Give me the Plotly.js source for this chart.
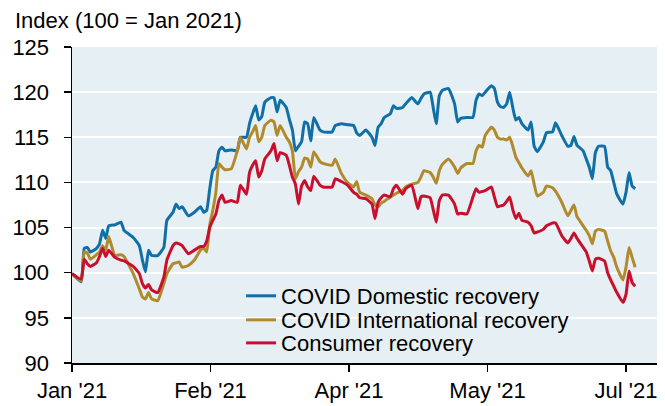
<!DOCTYPE html>
<html>
<head>
<meta charset="utf-8">
<script src="https://cdn.plot.ly/plotly-3.0.1.min.js"></script>
<style>
  html, body { margin: 0; padding: 0; background: #ffffff; }
  #chart { width: 665px; height: 406px; }
</style>
</head>
<body>
<div id="chart"></div>
<script>
// ---- data ----
const dates = [
  "2021-01-01","2021-01-04","2021-01-05","2021-01-06","2021-01-07","2021-01-09","2021-01-10","2021-01-11","2021-01-12","2021-01-13",
  "2021-01-15","2021-01-17","2021-01-18","2021-01-21","2021-01-23","2021-01-24","2021-01-25","2021-01-26","2021-01-27","2021-01-29",
  "2021-01-31","2021-02-01","2021-02-03","2021-02-04","2021-02-05","2021-02-06","2021-02-08","2021-02-10","2021-02-12","2021-02-13",
  "2021-02-14","2021-02-15","2021-02-16","2021-02-17","2021-02-18","2021-02-19","2021-02-20","2021-02-22","2021-02-24","2021-02-25",
  "2021-02-27","2021-02-28","2021-03-01","2021-03-02","2021-03-03","2021-03-04","2021-03-05","2021-03-07","2021-03-08","2021-03-09",
  "2021-03-10","2021-03-12","2021-03-13","2021-03-14","2021-03-15","2021-03-16","2021-03-17","2021-03-18","2021-03-19","2021-03-20",
  "2021-03-21","2021-03-23","2021-03-24","2021-03-27","2021-03-28","2021-03-30","2021-04-01","2021-04-03","2021-04-04","2021-04-05",
  "2021-04-07","2021-04-09","2021-04-10","2021-04-11","2021-04-12","2021-04-13","2021-04-15","2021-04-16","2021-04-17","2021-04-19",
  "2021-04-20","2021-04-22","2021-04-24","2021-04-25","2021-04-26","2021-04-28","2021-04-29","2021-04-30","2021-05-01","2021-05-02",
  "2021-05-04","2021-05-06","2021-05-07","2021-05-08","2021-05-10","2021-05-12","2021-05-13","2021-05-14","2021-05-15","2021-05-16",
  "2021-05-18","2021-05-19","2021-05-20","2021-05-21","2021-05-22","2021-05-23","2021-05-24","2021-05-25","2021-05-26","2021-05-27",
  "2021-05-28","2021-05-30","2021-05-31","2021-06-01","2021-06-02","2021-06-04","2021-06-05","2021-06-07","2021-06-08","2021-06-10",
  "2021-06-12","2021-06-13","2021-06-14","2021-06-15","2021-06-17","2021-06-18","2021-06-19","2021-06-20","2021-06-21","2021-06-22",
  "2021-06-24","2021-06-25","2021-06-26","2021-06-27","2021-06-28","2021-06-30","2021-07-01","2021-07-02","2021-07-03","2021-07-04"
];

const covidDomestic = [
  99.9, 99.0, 102.7, 102.8, 102.3, 102.7, 103.2, 104.7, 103.8, 105.2,
  105.3, 105.6, 104.7, 103.9, 103.0, 101.4, 100.1, 102.5, 101.9, 101.9,
  102.8, 105.8, 106.7, 107.6, 107.1, 107.3, 106.3, 106.7, 107.3, 106.7,
  106.9, 109.3, 111.3, 111.7, 113.5, 113.9, 113.5, 113.6, 113.5, 115.0,
  115.0, 116.5, 117.6, 118.5, 116.9, 117.3, 118.9, 119.4, 119.4, 117.8,
  119.1, 118.3, 117.0, 115.8, 113.5, 114.0, 114.5, 116.7, 116.5, 114.6,
  117.2, 115.8, 115.6, 115.6, 116.3, 116.5, 116.4, 116.3, 115.5, 115.2,
  115.8, 115.0, 114.1, 116.1, 116.5, 117.2, 117.6, 118.5, 118.2, 118.3,
  118.7, 119.4, 118.7, 119.3, 119.8, 120.0, 118.3, 116.5, 119.6, 120.2,
  120.4, 118.7, 116.7, 117.1, 117.2, 117.2, 119.1, 119.8, 119.6, 120.0,
  120.7, 120.4, 118.9, 118.4, 118.3, 118.7, 120.0, 118.3, 116.9, 117.2,
  116.5, 115.8, 116.7, 114.0, 113.4, 114.5, 115.5, 115.6, 116.6, 115.2,
  114.0, 114.1, 115.1, 114.1, 113.5, 112.6, 111.7, 110.4, 113.3, 114.0,
  114.0, 111.7, 111.3, 110.0, 108.7, 107.6, 108.9, 111.1, 109.6, 109.3
];

const covidInternational = [
  99.9, 99.1, 102.3, 102.2, 101.5, 102.0, 102.3, 103.0, 102.5, 104.0,
  101.9, 102.0, 101.8, 99.9, 98.2, 97.3, 97.1, 97.8, 97.1, 96.9,
  98.8, 99.9, 101.0, 101.1, 101.2, 100.6, 100.8, 101.4, 102.5, 102.7,
  102.3, 105.3, 106.9, 108.9, 112.1, 111.7, 111.4, 111.5, 113.5, 115.0,
  113.7, 115.0, 115.6, 116.3, 114.5, 115.0, 116.3, 116.9, 116.7, 115.2,
  116.3, 115.0, 114.5, 113.5, 110.4, 111.2, 111.7, 112.7, 112.6, 111.7,
  113.4, 112.3, 112.1, 111.9, 112.6, 111.0, 110.0, 109.5, 110.1, 108.9,
  108.6, 108.2, 107.5, 107.3, 107.7, 107.9, 108.4, 108.6, 108.8, 109.1,
  109.5, 109.8, 110.0, 110.6, 111.3, 111.1, 110.6, 109.9, 111.3, 112.0,
  112.6, 111.7, 111.0, 111.6, 112.1, 112.1, 113.5, 114.1, 113.9, 115.2,
  116.1, 115.8, 115.0, 114.8, 114.8, 114.7, 115.0, 114.0, 112.8, 112.2,
  111.6, 110.7, 111.3, 109.8, 108.5, 108.9, 109.6, 109.4, 109.0, 107.8,
  106.3, 106.9, 107.5, 106.2, 105.2, 104.7, 104.1, 103.2, 104.6, 104.8,
  104.6, 103.5, 102.4, 101.7, 100.6, 99.2, 100.6, 102.8, 101.7, 100.6
];

const consumer = [
  99.9, 99.3, 101.5, 101.0, 100.7, 101.1, 101.8, 102.7, 101.8, 102.5,
  101.7, 101.4, 101.3, 100.7, 99.9, 98.8, 98.3, 98.7, 98.1, 97.8,
  99.5, 101.4, 103.0, 103.3, 103.2, 103.0, 102.1, 102.5, 102.9, 102.9,
  103.5, 105.0, 105.8, 106.5, 108.0, 108.6, 107.8, 108.0, 107.8, 109.7,
  108.7, 111.1, 111.9, 112.4, 110.6, 111.3, 112.6, 113.5, 114.3, 112.4,
  113.3, 113.0, 111.9, 110.6, 109.8, 107.6, 109.6, 110.2, 109.5, 109.1,
  110.7, 109.7, 109.5, 109.5, 110.4, 110.1, 109.7, 108.9, 108.7, 108.3,
  108.2, 107.6, 106.0, 107.8, 108.3, 108.6, 108.4, 109.3, 109.7, 108.7,
  109.3, 109.7, 107.1, 108.4, 108.5, 108.3, 107.0, 105.6, 108.0, 108.6,
  108.6, 107.6, 106.5, 106.6, 106.5, 108.4, 109.3, 108.9, 109.0, 109.1,
  109.5, 108.4, 107.3, 107.4, 107.5, 107.9, 108.4, 107.0, 106.0, 106.6,
  105.8, 105.6, 105.2, 104.4, 104.5, 104.8, 105.2, 105.5, 105.5, 104.1,
  103.3, 103.8, 104.4, 103.8, 102.8, 102.3, 101.3, 100.2, 101.5, 101.6,
  101.3, 100.0, 99.2, 98.5, 97.8, 96.7, 97.6, 100.2, 98.9, 98.5
];

const seriesNames = ["COVID Domestic recovery", "COVID International recovery", "Consumer recovery"];
const seriesColors = ["#106fa6", "#b08a2c", "#c8102e"];

const xTickVals = ["2021-01-01", "2021-02-15 06:00", "2021-04-01 12:00", "2021-05-16 18:00", "2021-07-01"];
const xTickText = ["Jan '21", "Feb '21", "Apr '21", "May '21", "Jul '21"];
const yTickVals = [90, 95, 100, 105, 110, 115, 120, 125];

const subtitle = "Index (100 = Jan 2021)";

// ---- chart ----
const FONT = "Liberation Sans, Arial, sans-serif";
const seriesValues = [covidDomestic, covidInternational, consumer];
const legendIds = ["legend", "legend2", "legend3"];

const traces = seriesValues.map((vals, i) => ({
  type: "scatter",
  mode: "lines",
  x: dates,
  y: vals,
  name: seriesNames[i],
  legend: legendIds[i],
  line: { color: seriesColors[i], width: 3, shape: "spline", smoothing: 0.4 },
  hoverinfo: "skip"
}));

function legendBox(y) {
  return {
    x: 0.289, y: y, xanchor: "left", yanchor: "middle",
    bgcolor: "rgba(0,0,0,0)", borderwidth: 0,
    font: { family: FONT, size: 22, color: "#000000" },
    itemclick: false, itemdoubleclick: false
  };
}

const layout = {
  width: 665,
  height: 406,
  margin: { l: 72, r: 8, t: 47, b: 43, pad: 0 },
  paper_bgcolor: "#ffffff",
  plot_bgcolor: "#e6eff3",
  font: { family: FONT, size: 22, color: "#000000" },
  showlegend: true,
  legend: legendBox(0.212),
  legend2: legendBox(0.136),
  legend3: legendBox(0.063),
  xaxis: {
    type: "date",
    range: ["2021-01-01", "2021-07-11 03:00"],
    tickmode: "array",
    tickvals: xTickVals,
    ticktext: xTickText,
    ticks: "outside",
    ticklen: 7,
    tickwidth: 1.5,
    tickcolor: "#000000",
    showline: true,
    linecolor: "#000000",
    linewidth: 1.5,
    showgrid: false,
    zeroline: false,
    tickfont: { family: FONT, size: 22, color: "#000000" }
  },
  yaxis: {
    range: [90, 125],
    tickmode: "array",
    tickvals: yTickVals,
    ticks: "outside",
    ticklen: 7,
    tickwidth: 1.5,
    tickcolor: "#000000",
    showline: true,
    linecolor: "#000000",
    linewidth: 1.5,
    showgrid: true,
    gridcolor: "#ffffff",
    gridwidth: 2,
    zeroline: false,
    ticklabelstandoff: 10,
    tickfont: { family: FONT, size: 22, color: "#000000" }
  },
  annotations: [{
    text: subtitle,
    xref: "paper", yref: "paper",
    x: -0.1009, y: 1.0823,
    xanchor: "left", yanchor: "middle",
    showarrow: false,
    font: { family: FONT, size: 22, color: "#000000" }
  }]
};

Plotly.newPlot("chart", traces, layout, { staticPlot: true, displayModeBar: false });
</script>
</body>
</html>
